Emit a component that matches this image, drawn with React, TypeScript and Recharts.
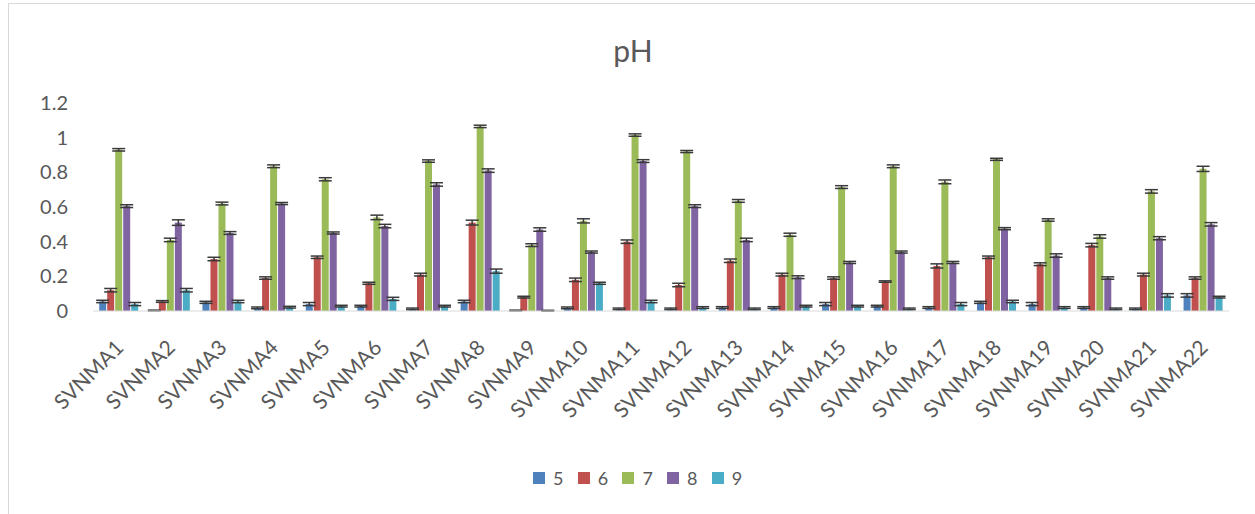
import React from "react";
import { BarChart, Bar, XAxis, YAxis, ErrorBar } from "recharts";

const sites = [
  "SVNMA1", "SVNMA2", "SVNMA3", "SVNMA4", "SVNMA5", "SVNMA6", "SVNMA7", "SVNMA8",
  "SVNMA9", "SVNMA10", "SVNMA11", "SVNMA12", "SVNMA13", "SVNMA14", "SVNMA15",
  "SVNMA16", "SVNMA17", "SVNMA18", "SVNMA19", "SVNMA20", "SVNMA21", "SVNMA22",
];

// pH 5..9 values per site
const ph5 = [0.055, 0.003, 0.05, 0.018, 0.04, 0.028, 0.012, 0.055, 0.003, 0.018, 0.012, 0.012, 0.02, 0.02, 0.04, 0.028, 0.02, 0.05, 0.04, 0.02, 0.012, 0.09];
const ph6 = [0.12, 0.055, 0.3, 0.19, 0.31, 0.16, 0.21, 0.51, 0.08, 0.18, 0.4, 0.15, 0.29, 0.21, 0.19, 0.17, 0.26, 0.31, 0.27, 0.38, 0.21, 0.19];
const ph7 = [0.93, 0.41, 0.62, 0.835, 0.76, 0.54, 0.865, 1.065, 0.38, 0.52, 1.015, 0.92, 0.635, 0.44, 0.715, 0.835, 0.745, 0.875, 0.525, 0.43, 0.69, 0.82];
const ph8 = [0.605, 0.51, 0.45, 0.62, 0.45, 0.49, 0.73, 0.81, 0.47, 0.34, 0.865, 0.605, 0.41, 0.195, 0.28, 0.34, 0.28, 0.475, 0.32, 0.19, 0.42, 0.5];
const ph9 = [0.04, 0.12, 0.055, 0.022, 0.028, 0.07, 0.028, 0.23, 0.002, 0.16, 0.055, 0.02, 0.012, 0.028, 0.028, 0.012, 0.04, 0.055, 0.02, 0.012, 0.09, 0.08];

// standard errors (cap above bar top)
const err5 = [0.007, 0.002, 0.006, 0.005, 0.009, 0.005, 0.005, 0.007, 0.002, 0.005, 0.005, 0.005, 0.005, 0.005, 0.009, 0.005, 0.005, 0.006, 0.009, 0.005, 0.005, 0.01];
const err6 = [0.01, 0.005, 0.01, 0.007, 0.007, 0.006, 0.008, 0.014, 0.005, 0.01, 0.01, 0.01, 0.01, 0.008, 0.007, 0.004, 0.012, 0.007, 0.008, 0.01, 0.008, 0.007];
const err7 = [0.007, 0.01, 0.008, 0.008, 0.009, 0.013, 0.007, 0.007, 0.008, 0.012, 0.007, 0.006, 0.008, 0.009, 0.008, 0.008, 0.011, 0.006, 0.007, 0.01, 0.01, 0.015];
const err8 = [0.008, 0.016, 0.008, 0.006, 0.006, 0.01, 0.01, 0.01, 0.01, 0.006, 0.008, 0.008, 0.01, 0.008, 0.006, 0.006, 0.006, 0.006, 0.01, 0.007, 0.009, 0.01];
const err9 = [0.009, 0.01, 0.007, 0.005, 0.005, 0.009, 0.005, 0.012, 0.002, 0.006, 0.007, 0.005, 0.005, 0.005, 0.005, 0.005, 0.009, 0.007, 0.005, 0.005, 0.01, 0.005];

const yTicks = [0, 0.2, 0.4, 0.6, 0.8, 1, 1.2];

const series = [
  { key: "p5", name: "5", color: "#4F81BD", values: ph5, err: err5 },
  { key: "p6", name: "6", color: "#C0504D", values: ph6, err: err6 },
  { key: "p7", name: "7", color: "#9BBB59", values: ph7, err: err7 },
  { key: "p8", name: "8", color: "#8064A2", values: ph8, err: err8 },
  { key: "p9", name: "9", color: "#4BACC6", values: ph9, err: err9 },
];

const data = sites.map((site, i) => {
  const row: any = { site };
  series.forEach((s) => {
    row[s.key] = s.values[i];
    row[s.key + "e"] = s.err[i];
  });
  return row;
});

const FONT = "Lato, 'Open Sans', sans-serif";
const TEXT = "#595959";

const SiteTick = (props: any) => {
  const { x, y, payload } = props;
  return (
    <g transform={`translate(${x},${y})`}>
      <text
        x={0}
        y={0}
        transform="translate(6,38) rotate(-45)"
        textAnchor="end"
        fill={TEXT}
        fontSize={21}
        fontFamily={FONT}
      >
        {payload.value}
      </text>
    </g>
  );
};

export default function App() {
  return (
    <div
      style={{
        position: "absolute",
        left: 8,
        top: 3,
        width: 1247,
        height: 511,
        borderLeft: "1px solid #d9d9d9",
        borderTop: "1px solid #d9d9d9",
        background: "#fff",
        fontFamily: FONT,
      }}
    >
      <div
        style={{
          position: "absolute",
          left: 0,
          width: 1248,
          top: 28,
          textAlign: "center",
          fontSize: 30,
          lineHeight: "36px",
          color: TEXT,
        }}
      >
        pH
      </div>
      <BarChart
        width={1246}
        height={510}
        data={data}
        margin={{ top: 99, right: 26, left: 0, bottom: 0 }}
        barCategoryGap="12%"
        barGap={1}
      >
        <XAxis
          dataKey="site"
          height={203}
          interval={0}
          tickLine={false}
          tickSize={0}
          tickMargin={0}
          axisLine={{ stroke: "#d9d9d9" }}
          tick={<SiteTick />}
        />
        <YAxis
          width={84}
          domain={[0, 1.2]}
          ticks={yTicks}
          axisLine={false}
          tickLine={false}
          tickSize={0}
          tickMargin={25}
          tick={{ fill: TEXT, fontSize: 20, fontFamily: FONT }}
        />
        {series.map((s) => (
          <Bar key={s.key} dataKey={s.key} name={s.name} fill={s.color} isAnimationActive={false}>
            <ErrorBar
              dataKey={s.key + "e"}
              width={6.5}
              stroke="#3a3a3a"
              strokeWidth={1.5}
              direction="y"
              isAnimationActive={false}
            />
          </Bar>
        ))}
      </BarChart>
      <div
        style={{
          position: "absolute",
          left: 524,
          top: 463,
          display: "flex",
          alignItems: "center",
          color: TEXT,
          fontSize: 18,
        }}
      >
        {series.map((s) => (
          <div key={s.key} style={{ width: 44.7, display: "flex", alignItems: "center" }}>
            <span style={{ width: 12, height: 12, background: s.color, marginRight: 8 }} />
            <span>{s.name}</span>
          </div>
        ))}
      </div>
    </div>
  );
}
